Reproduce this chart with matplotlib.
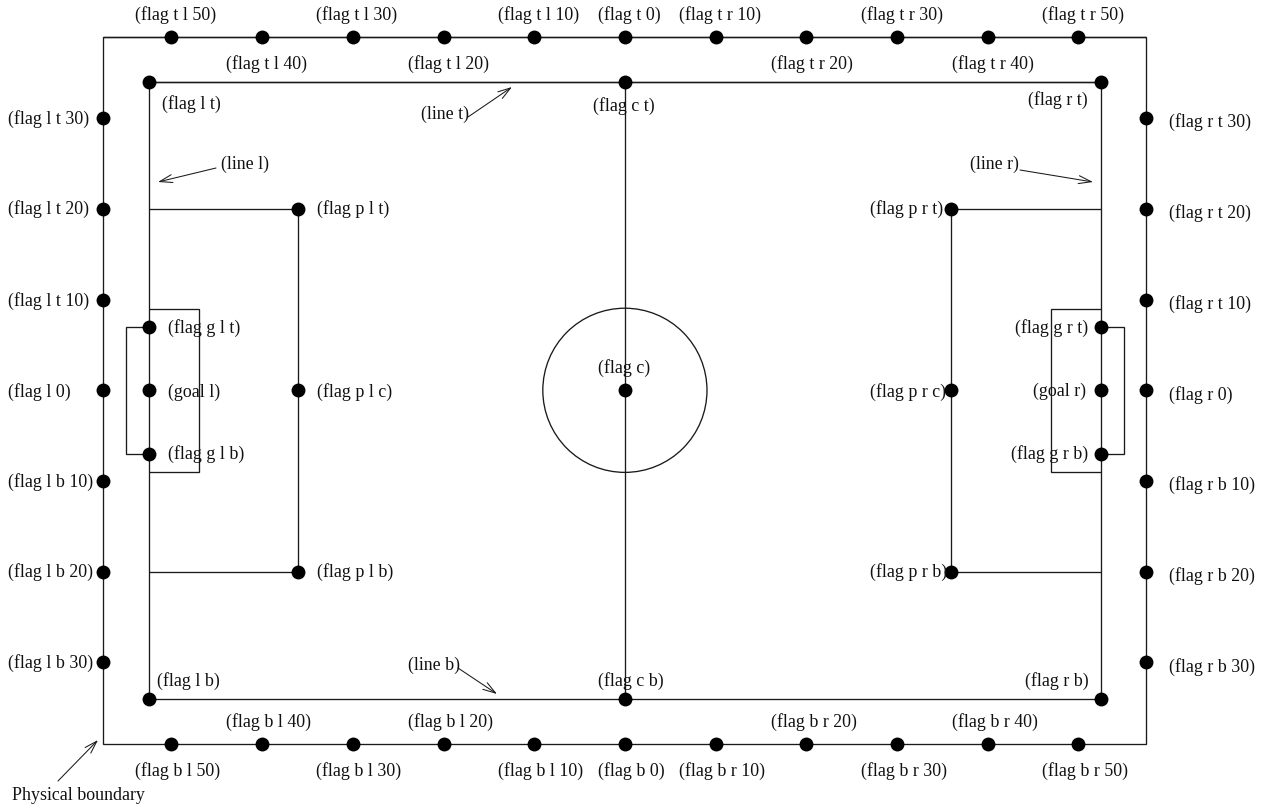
import matplotlib
matplotlib.use("Agg")
import matplotlib.pyplot as plt
from matplotlib.patches import Circle, FancyArrowPatch
from matplotlib.transforms import Affine2D

W, H = 1269, 807
SCALE = 9.07
CX, CY = 624.9, 390.3

# Field geometry in field units (y grows downward)
BOUND_X, BOUND_Y = 57.5, 39.0
LINE_X, LINE_Y = 52.5, 34.0
PEN_X, PEN_Y = 36.0, 20.0
GOAL_Y = 7.0
GOAL_BACK_X = 55.0
AREA_X, AREA_Y = 47.0, 9.0
CIRCLE_R = 9.05

# Flags
top_bottom_x = [-50, -40, -30, -20, -10, 0, 10, 20, 30, 40, 50]
side_y = [-30, -20, -10, 0, 10, 20, 30]
line_corners = [(-LINE_X, -LINE_Y), (0, -LINE_Y), (LINE_X, -LINE_Y),
                (-LINE_X, LINE_Y), (0, LINE_Y), (LINE_X, LINE_Y)]
penalty_y = [-PEN_Y, 0, PEN_Y]
goal_y = [-GOAL_Y, 0, GOAL_Y]

# Text labels: (text, left px, centre-y px)
labels = [
    ("(flag t l 50)", 135, 15), ("(flag t l 30)", 316, 15), ("(flag t l 10)", 498, 15),
    ("(flag t 0)", 598, 15), ("(flag t r 10)", 679, 15), ("(flag t r 30)", 861, 15),
    ("(flag t r 50)", 1042, 15),
    ("(flag t l 40)", 226, 64), ("(flag t l 20)", 408, 64),
    ("(flag t r 20)", 771, 64), ("(flag t r 40)", 952, 64),
    ("(flag l t 30)", 8, 119), ("(flag l t 20)", 8, 209), ("(flag l t 10)", 8, 301),
    ("(flag l 0)", 8, 392), ("(flag l b 10)", 8, 482), ("(flag l b 20)", 8, 572),
    ("(flag l b 30)", 8, 663),
    ("(flag r t 30)", 1169, 122), ("(flag r t 20)", 1169, 213), ("(flag r t 10)", 1169, 304),
    ("(flag r 0)", 1169, 395), ("(flag r b 10)", 1169, 485), ("(flag r b 20)", 1169, 576),
    ("(flag r b 30)", 1169, 667),
    ("(flag l t)", 162, 104), ("(flag c t)", 593, 106), ("(flag r t)", 1028, 100),
    ("(flag l b)", 157, 681), ("(flag c b)", 598, 681), ("(flag r b)", 1025, 681),
    ("(flag b l 40)", 226, 722), ("(flag b l 20)", 408, 722),
    ("(flag b r 20)", 771, 722), ("(flag b r 40)", 952, 722),
    ("(flag b l 50)", 135, 771), ("(flag b l 30)", 316, 771), ("(flag b l 10)", 498, 771),
    ("(flag b 0)", 598, 771), ("(flag b r 10)", 679, 771), ("(flag b r 30)", 861, 771),
    ("(flag b r 50)", 1042, 771),
    ("(line t)", 421, 114), ("(line l)", 221, 164), ("(line r)", 970, 164), ("(line b)", 408, 665),
    ("Physical boundary", 12, 796),
    ("(flag p l t)", 317, 209), ("(flag p l c)", 317, 392), ("(flag p l b)", 317, 572),
    ("(flag p r t)", 870, 209), ("(flag p r c)", 870, 392), ("(flag p r b)", 870, 572),
    ("(flag g l t)", 168, 328), ("(goal l)", 168, 392), ("(flag g l b)", 168, 454),
    ("(flag g r t)", 1015, 328), ("(goal r)", 1033, 391), ("(flag g r b)", 1011, 454),
    ("(flag c)", 598, 368),
]

# Arrows: (start px, tip px)
arrows = [
    ((468, 117), (512, 87)), ((216, 168), (158, 182)), ((1020, 170), (1093, 182)),
    ((458, 668), (497, 694)), ((58, 781), (98, 740)),
]

plt.rcParams["font.family"] = ["Liberation Serif", "DejaVu Serif"]
fig = plt.figure(figsize=(W / 100, H / 100), dpi=100, facecolor="white")
ax = fig.add_axes([0, 0, 1, 1])
ax.set_xlim(-CX / SCALE, (W - CX) / SCALE)
ax.set_ylim((H - CY) / SCALE, -CY / SCALE)
ax.axis("off")

LC = "#1a1a1a"
LW = 0.95
px = Affine2D().scale(1, -1).translate(0, H)


def seg(xs, ys):
    ax.plot(xs, ys, color=LC, lw=LW, solid_joinstyle="miter", solid_capstyle="butt", zorder=2)


# Boundary and pitch
seg([-BOUND_X, BOUND_X, BOUND_X, -BOUND_X, -BOUND_X, BOUND_X],
    [-BOUND_Y, -BOUND_Y, BOUND_Y, BOUND_Y, -BOUND_Y, -BOUND_Y])
seg([-LINE_X, LINE_X, LINE_X, -LINE_X, -LINE_X, LINE_X],
    [-LINE_Y, -LINE_Y, LINE_Y, LINE_Y, -LINE_Y, -LINE_Y])
seg([0, 0], [-LINE_Y, LINE_Y])
ax.add_patch(Circle((0, 0), CIRCLE_R, fill=False, ec=LC, lw=LW, zorder=2))

for s in (-1, 1):
    seg([s * LINE_X, s * PEN_X, s * PEN_X, s * LINE_X], [-PEN_Y, -PEN_Y, PEN_Y, PEN_Y])
    seg([s * LINE_X, s * AREA_X, s * AREA_X, s * LINE_X], [-AREA_Y, -AREA_Y, AREA_Y, AREA_Y])
    seg([s * LINE_X, s * GOAL_BACK_X, s * GOAL_BACK_X, s * LINE_X], [-GOAL_Y, -GOAL_Y, GOAL_Y, GOAL_Y])

# Flags
fx, fy = [], []
for s in (-1, 1):
    fx += top_bottom_x
    fy += [s * BOUND_Y] * len(top_bottom_x)
    fx += [s * BOUND_X] * len(side_y)
    fy += side_y
    fx += [s * PEN_X] * len(penalty_y)
    fy += penalty_y
    fx += [s * LINE_X] * len(goal_y)
    fy += goal_y
fx += [c[0] for c in line_corners] + [0]
fy += [c[1] for c in line_corners] + [0]
ax.plot(fx, fy, ls="none", marker="o", ms=10, color="black", mew=0, zorder=3)

# Labels
for txt, x, y in labels:
    ax.text(x, y, txt, transform=px, ha="left", va="center", fontsize=12.9, color="#111111", zorder=4)

# Arrows
for a, b in arrows:
    ax.add_patch(FancyArrowPatch(a, b, transform=px, arrowstyle="->,head_length=7,head_width=2.2",
                                 color=LC, lw=0.75, shrinkA=0, shrinkB=0, mutation_scale=1.3, zorder=2))

fig.savefig("out.png", dpi=100)
